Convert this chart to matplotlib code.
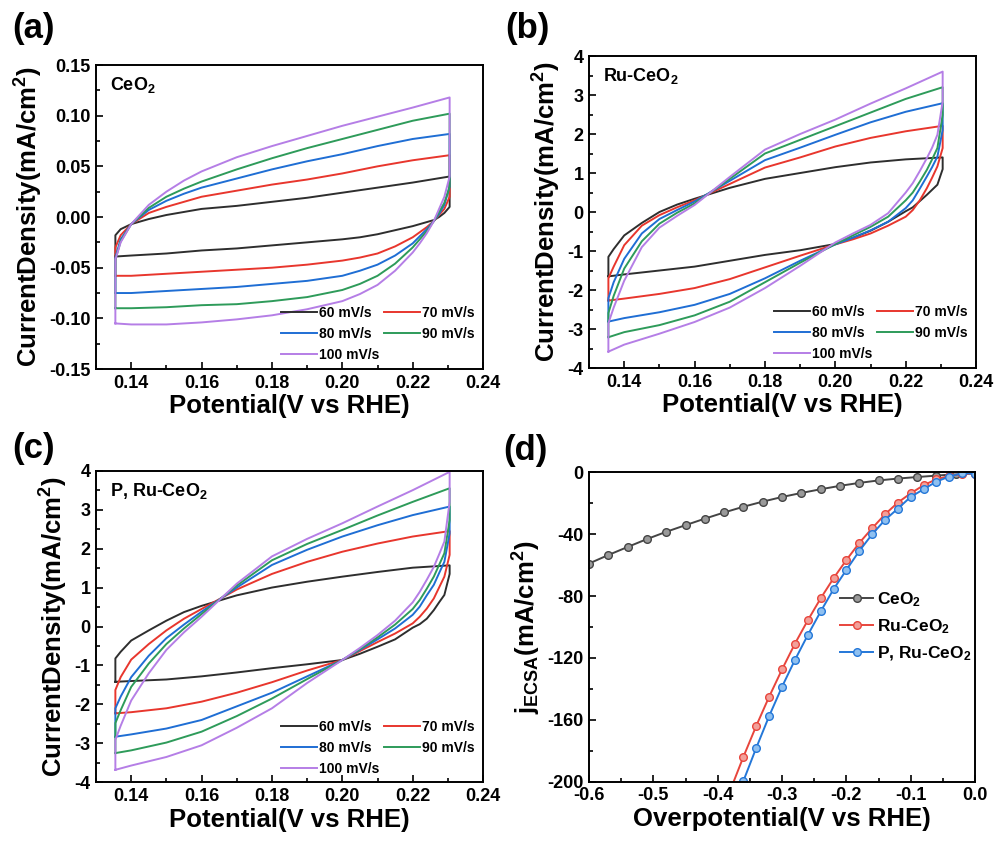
import matplotlib
matplotlib.use("Agg")
import matplotlib.pyplot as plt
from matplotlib.ticker import MultipleLocator, FormatStrFormatter
import numpy as np

plt.rcParams['font.family'] = ['Liberation Sans', 'DejaVu Sans']
plt.rcParams['font.weight'] = 'bold'
plt.rcParams['mathtext.fontset'] = 'custom'
plt.rcParams['mathtext.rm'] = 'Liberation Sans:bold'
plt.rcParams['mathtext.it'] = 'Liberation Sans:bold'
plt.rcParams['mathtext.bf'] = 'Liberation Sans:bold'
plt.rcParams['mathtext.default'] = 'rm'
plt.rcParams['axes.unicode_minus'] = False

# ---------------- CV data ----------------
scan_labels = ['60 mV/s', '70 mV/s', '80 mV/s', '90 mV/s', '100 mV/s']
cv_colors = ['#2e2e2e', '#e8362d', '#1f6ed4', '#2e9b5a', '#b57ee6']

# anodic (upper) branch potentials, V
ux = [0.1355, 0.1355, 0.137, 0.14, 0.145, 0.15, 0.155, 0.16, 0.17, 0.18, 0.19, 0.20, 0.21, 0.22, 0.2305]
# cathodic (lower) branch potentials, V
lx = [0.2305, 0.229, 0.2275, 0.226, 0.224, 0.222, 0.22, 0.215, 0.21, 0.205, 0.20, 0.19, 0.18, 0.17, 0.16, 0.15, 0.14, 0.1355]

# (a) CeO2
a_up_60 = [-0.039, -0.018, -0.012, -0.007, -0.002, 0.002, 0.005, 0.008, 0.011, 0.015, 0.019, 0.024, 0.029, 0.034, 0.040]
a_up_70 = [-0.058, -0.030, -0.018, -0.007, 0.004, 0.010, 0.015, 0.020, 0.026, 0.032, 0.037, 0.043, 0.050, 0.056, 0.061]
a_up_80 = [-0.075, -0.040, -0.022, -0.007, 0.007, 0.016, 0.023, 0.029, 0.038, 0.047, 0.055, 0.062, 0.070, 0.077, 0.082]
a_up_90 = [-0.090, -0.042, -0.024, -0.007, 0.009, 0.020, 0.028, 0.035, 0.047, 0.058, 0.068, 0.077, 0.086, 0.095, 0.102]
a_up_100 = [-0.105, -0.042, -0.025, -0.007, 0.012, 0.025, 0.036, 0.045, 0.059, 0.070, 0.080, 0.090, 0.099, 0.108, 0.118]
a_lo_60 = [0.010, 0.004, 0.000, -0.003, -0.005, -0.007, -0.009, -0.013, -0.017, -0.020, -0.022, -0.025, -0.028, -0.031, -0.033, -0.036, -0.038, -0.039]
a_lo_70 = [0.020, 0.008, 0.002, -0.004, -0.010, -0.015, -0.020, -0.029, -0.036, -0.040, -0.043, -0.047, -0.050, -0.052, -0.054, -0.056, -0.058, -0.058]
a_lo_80 = [0.030, 0.012, 0.003, -0.004, -0.012, -0.019, -0.026, -0.038, -0.047, -0.053, -0.058, -0.063, -0.066, -0.069, -0.071, -0.073, -0.075, -0.075]
a_lo_90 = [0.030, 0.014, 0.005, -0.004, -0.014, -0.022, -0.030, -0.046, -0.058, -0.066, -0.072, -0.079, -0.083, -0.086, -0.087, -0.089, -0.090, -0.090]
a_lo_100 = [0.040, 0.020, 0.008, -0.004, -0.016, -0.026, -0.035, -0.053, -0.067, -0.076, -0.083, -0.091, -0.097, -0.101, -0.104, -0.106, -0.106, -0.105]

# (b) Ru-CeO2
b_up_60 = [-1.65, -1.15, -0.95, -0.60, -0.28, 0.00, 0.19, 0.34, 0.62, 0.85, 1.00, 1.15, 1.27, 1.35, 1.40]
b_up_70 = [-2.27, -1.70, -1.40, -0.85, -0.35, -0.08, 0.12, 0.30, 0.72, 1.14, 1.40, 1.68, 1.90, 2.07, 2.21]
b_up_80 = [-2.81, -2.21, -1.80, -1.20, -0.55, -0.18, 0.05, 0.27, 0.80, 1.33, 1.65, 1.98, 2.30, 2.57, 2.79]
b_up_90 = [-3.21, -2.59, -2.15, -1.45, -0.75, -0.30, -0.02, 0.22, 0.85, 1.50, 1.85, 2.20, 2.55, 2.90, 3.20]
b_up_100 = [-3.58, -2.85, -2.45, -1.76, -0.90, -0.40, -0.10, 0.18, 0.90, 1.60, 2.00, 2.37, 2.78, 3.17, 3.60]
b_lo_60 = [1.10, 0.70, 0.57, 0.44, 0.28, 0.12, 0.02, -0.25, -0.48, -0.66, -0.82, -0.98, -1.10, -1.25, -1.40, -1.50, -1.60, -1.65]
b_lo_70 = [1.64, 1.17, 0.88, 0.61, 0.30, 0.05, -0.12, -0.35, -0.55, -0.70, -0.83, -1.12, -1.42, -1.72, -1.95, -2.10, -2.22, -2.27]
b_lo_80 = [2.10, 1.42, 1.15, 0.91, 0.60, 0.30, 0.10, -0.25, -0.47, -0.66, -0.83, -1.25, -1.70, -2.10, -2.38, -2.57, -2.72, -2.81]
b_lo_90 = [2.49, 1.64, 1.35, 1.08, 0.78, 0.50, 0.30, -0.12, -0.38, -0.60, -0.82, -1.30, -1.80, -2.30, -2.65, -2.90, -3.08, -3.21]
b_lo_100 = [2.83, 1.98, 1.65, 1.38, 1.05, 0.74, 0.50, -0.03, -0.33, -0.55, -0.78, -1.38, -1.95, -2.45, -2.82, -3.12, -3.40, -3.58]

# (c) P, Ru-CeO2
c_up_60 = [-1.42, -0.82, -0.65, -0.36, -0.10, 0.15, 0.37, 0.53, 0.80, 1.00, 1.15, 1.28, 1.40, 1.51, 1.57]
c_up_70 = [-2.23, -1.63, -1.30, -0.85, -0.45, -0.10, 0.20, 0.45, 0.95, 1.35, 1.66, 1.92, 2.13, 2.31, 2.45]
c_up_80 = [-2.83, -2.10, -1.80, -1.30, -0.75, -0.30, 0.05, 0.38, 1.00, 1.58, 1.97, 2.31, 2.60, 2.86, 3.08]
c_up_90 = [-3.25, -2.48, -2.15, -1.55, -0.95, -0.45, -0.05, 0.32, 1.05, 1.70, 2.12, 2.48, 2.85, 3.20, 3.55]
c_up_100 = [-3.68, -2.91, -2.55, -1.90, -1.20, -0.60, -0.15, 0.25, 1.10, 1.80, 2.25, 2.65, 3.08, 3.50, 3.97]
c_lo_60 = [1.35, 0.81, 0.62, 0.42, 0.20, 0.06, -0.03, -0.33, -0.52, -0.70, -0.86, -0.97, -1.07, -1.18, -1.28, -1.36, -1.40, -1.42]
c_lo_70 = [1.84, 1.28, 1.00, 0.72, 0.46, 0.25, 0.08, -0.18, -0.40, -0.63, -0.86, -1.13, -1.43, -1.70, -1.93, -2.10, -2.20, -2.23]
c_lo_80 = [2.39, 1.66, 1.37, 1.07, 0.80, 0.51, 0.30, -0.05, -0.33, -0.60, -0.86, -1.28, -1.70, -2.05, -2.40, -2.62, -2.77, -2.83]
c_lo_90 = [2.73, 1.88, 1.58, 1.28, 0.97, 0.68, 0.45, 0.05, -0.28, -0.58, -0.86, -1.35, -1.85, -2.30, -2.70, -2.98, -3.18, -3.25]
c_lo_100 = [3.20, 2.18, 1.85, 1.53, 1.20, 0.89, 0.62, 0.15, -0.22, -0.55, -0.86, -1.45, -2.10, -2.60, -3.05, -3.35, -3.57, -3.68]

# ---------------- (d) jECSA data ----------------
ceo2_eta = [-0.60, -0.57, -0.54, -0.51, -0.48, -0.45, -0.42, -0.39, -0.36, -0.33, -0.30,
            -0.27, -0.24, -0.21, -0.18, -0.15, -0.12, -0.09, -0.06, -0.03, 0.00]
ceo2_j = [-59.0, -53.5, -48.3, -43.2, -38.5, -34.2, -30.0, -26.0, -22.3, -19.0, -16.0,
          -13.4, -11.0, -8.8, -6.9, -5.3, -4.1, -3.1, -2.2, -1.3, -0.8]
ru_eta = [-0.38, -0.36, -0.34, -0.32, -0.30, -0.28, -0.26, -0.24, -0.22, -0.20, -0.18,
          -0.16, -0.14, -0.12, -0.10, -0.08, -0.06, -0.04, -0.02, 0.00]
ru_j = [-205.0, -183.8, -163.8, -145.0, -127.4, -110.8, -95.7, -81.5, -68.5, -56.7, -45.7,
        -36.2, -27.2, -19.6, -13.6, -8.4, -4.5, -2.4, -1.1, -1.0]
pru_eta = [-0.38, -0.36, -0.34, -0.32, -0.30, -0.28, -0.26, -0.24, -0.22, -0.20, -0.18,
           -0.16, -0.14, -0.12, -0.10, -0.08, -0.06, -0.04, -0.02, 0.00]
pru_j = [-221.0, -199.4, -178.0, -157.5, -138.6, -121.3, -105.2, -90.0, -75.6, -63.1, -50.9,
         -40.1, -30.8, -23.5, -15.9, -11.0, -6.0, -2.8, -0.6, -1.0]
d_labels = [r'CeO$_2$', r'Ru-CeO$_2$', r'P, Ru-CeO$_2$']
d_colors = ['#444444', '#e8453c', '#2477d8']
d_faces = ['#9a9a9a', '#f2a09a', '#8fc0f0']

fig = plt.figure(figsize=(9.95, 8.41), dpi=100)

ax_a = fig.add_axes([0.0965, 0.5612, 0.389, 0.3615])
ax_b = fig.add_axes([0.592, 0.5624, 0.389, 0.371])
ax_c = fig.add_axes([0.0965, 0.0698, 0.389, 0.3705])
ax_d = fig.add_axes([0.592, 0.0705, 0.388, 0.368])

TICK_FS = 13
LAB_FS = 18.5


def style_axes(ax):
    for s in ax.spines.values():
        s.set_linewidth(1.4)
    ax.tick_params(which='both', direction='in', top=False, right=False,
                   labelsize=TICK_FS, width=1.2, pad=4)
    ax.tick_params(which='major', length=5)
    ax.tick_params(which='minor', length=3)
    for lab in ax.get_xticklabels() + ax.get_yticklabels():
        lab.set_fontweight('bold')


def cv_panel(ax, ups, los, name, ylim, ymaj, ymin, yfmt):
    handles = []
    for up, lo, col, lab in zip(ups, los, cv_colors, scan_labels):
        x = list(ux) + list(lx)
        y = list(up) + list(lo)
        h, = ax.plot(x, y, color=col, lw=1.4, label=lab)
        handles.append(h)
    ax.set_xlim(0.13, 0.24)
    ax.set_ylim(*ylim)
    ax.xaxis.set_major_locator(MultipleLocator(0.02))
    ax.xaxis.set_minor_locator(MultipleLocator(0.01))
    ax.xaxis.set_major_formatter(FormatStrFormatter('%.2f'))
    ax.yaxis.set_major_locator(MultipleLocator(ymaj))
    ax.yaxis.set_minor_locator(MultipleLocator(ymin))
    ax.yaxis.set_major_formatter(FormatStrFormatter(yfmt))
    style_axes(ax)
    ax.set_xlabel('Potential(V vs RHE)', fontsize=LAB_FS, fontweight='bold', labelpad=2)
    ax.set_ylabel(r'CurrentDensity(mA/cm$^{2}$)', fontsize=LAB_FS, fontweight='bold', labelpad=3)
    ax.text(0.035, 0.935, name, transform=ax.transAxes, fontsize=13,
            fontweight='bold', va='center', ha='left')
    order = [0, 2, 4, 1, 3]
    ax.legend([handles[i] for i in order], [scan_labels[i] for i in order],
              ncol=2, loc='lower right', bbox_to_anchor=(1.0, -0.005), frameon=False,
              prop={'size': 10, 'weight': 'bold'}, handlelength=2.6, handletextpad=0.15,
              columnspacing=0.3, labelspacing=0.5, borderaxespad=0.2)


cv_panel(ax_a, [a_up_60, a_up_70, a_up_80, a_up_90, a_up_100],
         [a_lo_60, a_lo_70, a_lo_80, a_lo_90, a_lo_100],
         r'CeO$_2$', (-0.15, 0.15), 0.05, 0.025, '%.2f')
cv_panel(ax_b, [b_up_60, b_up_70, b_up_80, b_up_90, b_up_100],
         [b_lo_60, b_lo_70, b_lo_80, b_lo_90, b_lo_100],
         r'Ru-CeO$_2$', (-4, 4), 1, 0.5, '%d')
cv_panel(ax_c, [c_up_60, c_up_70, c_up_80, c_up_90, c_up_100],
         [c_lo_60, c_lo_70, c_lo_80, c_lo_90, c_lo_100],
         r'P, Ru-CeO$_2$', (-4, 4), 1, 0.5, '%d')

# ---------------- (d) ----------------
for xs, ys, col, fc, lab in zip([ceo2_eta, ru_eta, pru_eta], [ceo2_j, ru_j, pru_j],
                                d_colors, d_faces, d_labels):
    ax_d.plot(xs, ys, color=col, lw=1.4, marker='o', markersize=5.5,
              markerfacecolor=fc, markeredgecolor=col, markeredgewidth=1.0, label=lab)
ax_d.set_xlim(-0.6, 0.0)
ax_d.set_ylim(-200, 0)
ax_d.xaxis.set_major_locator(MultipleLocator(0.1))
ax_d.xaxis.set_minor_locator(MultipleLocator(0.05))
ax_d.xaxis.set_major_formatter(FormatStrFormatter('%.1f'))
ax_d.yaxis.set_major_locator(MultipleLocator(40))
ax_d.yaxis.set_minor_locator(MultipleLocator(20))
style_axes(ax_d)
ax_d.set_xlabel('Overpotential(V vs RHE)', fontsize=LAB_FS, fontweight='bold', labelpad=2)
ax_d.set_ylabel(r'j$_{\rm ECSA}$(mA/cm$^{2}$)', fontsize=LAB_FS, fontweight='bold', labelpad=3)
ax_d.legend(loc='upper left', bbox_to_anchor=(0.61, 0.67), frameon=False,
            prop={'size': 12.5, 'weight': 'bold'}, handlelength=1.9, handletextpad=0.2,
            labelspacing=0.5, numpoints=1)

# panel letters
for x, y, t in [(0.012, 0.986, '(a)'), (0.508, 0.986, '(b)'),
                (0.012, 0.486, '(c)'), (0.506, 0.484, '(d)')]:
    fig.text(x, y, t, fontsize=25, fontweight='bold', va='top', ha='left')

fig.savefig('out.png', dpi=100)
